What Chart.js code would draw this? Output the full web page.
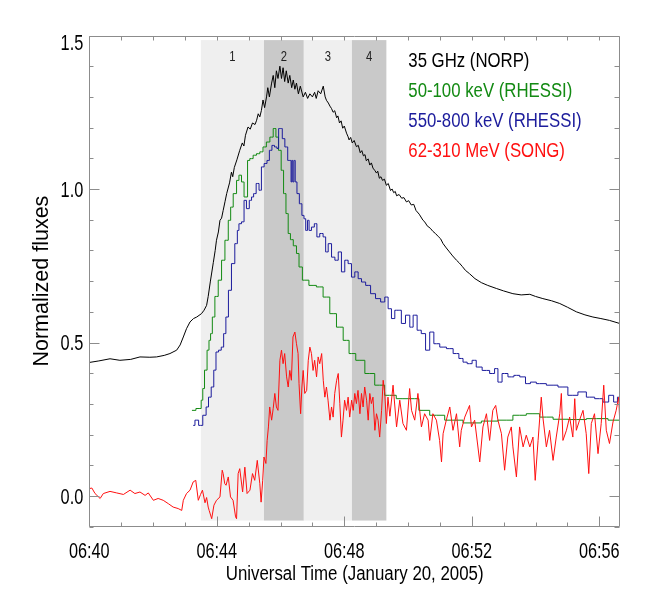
<!DOCTYPE html>
<html>
<head>
<meta charset="utf-8">
<script src="https://cdn.jsdelivr.net/npm/chart.js@4.4.3/dist/chart.umd.min.js"></script>
<style>
  html, body { margin: 0; padding: 0; background: #fff; }
  canvas { display: block; }
</style>
</head>
<body>
<canvas id="fluxChart" width="647" height="598"></canvas>
<script>
// temps en minutes après 06:40 UT
const normT = [0.00,0.30,0.65,0.96,1.30,1.59,1.90,2.11,2.35,2.53,2.74,2.85,2.95,3.05,3.16,3.27,3.37,3.52,3.60,3.68,3.73,3.80,3.89,3.95,3.99,4.05,4.10,4.15,4.20,4.26,4.31,4.40,4.46,4.50,4.55,4.63,4.72,4.80,4.85,4.90,4.98,5.05,5.12,5.20,5.25,5.30,5.35,5.40,5.45,5.50,5.56,5.60,5.65,5.72,5.77,5.82,5.87,5.92,5.98,6.03,6.08,6.13,6.18,6.24,6.29,6.35,6.40,6.45,6.50,6.56,6.62,6.71,6.78,6.85,6.92,7.00,7.07,7.12,7.18,7.26,7.34,7.40,7.44,7.50,7.55,7.60,7.65,7.70,7.76,7.80,7.85,7.90,7.95,8.00,8.07,8.12,8.15,8.20,8.25,8.31,8.38,8.44,8.50,8.55,8.60,8.65,8.69,8.75,8.80,8.85,8.90,8.96,9.01,9.05,9.10,9.15,9.20,9.26,9.32,9.38,9.45,9.50,9.55,9.60,9.64,9.72,9.80,9.87,9.95,10.02,10.10,10.18,10.25,10.35,10.47,10.53,10.60,10.70,10.78,10.86,10.95,11.02,11.10,11.20,11.30,11.40,11.52,11.60,11.70,11.80,11.93,12.10,12.30,12.50,12.77,13.00,13.29,13.55,13.82,14.00,14.23,14.50,14.76,15.00,15.28,15.55,15.80,16.05,16.32,16.64];
const normV = [0.435,0.440,0.447,0.442,0.445,0.453,0.452,0.453,0.458,0.464,0.475,0.492,0.518,0.545,0.567,0.578,0.583,0.594,0.605,0.621,0.650,0.700,0.760,0.800,0.833,0.860,0.898,0.905,0.930,0.960,0.985,1.020,1.055,1.040,1.070,1.095,1.126,1.150,1.140,1.175,1.202,1.195,1.215,1.210,1.224,1.245,1.235,1.256,1.290,1.265,1.300,1.330,1.300,1.345,1.370,1.330,1.385,1.360,1.400,1.360,1.395,1.350,1.385,1.345,1.370,1.330,1.355,1.325,1.345,1.310,1.335,1.300,1.315,1.295,1.310,1.300,1.315,1.295,1.320,1.310,1.335,1.300,1.289,1.280,1.270,1.262,1.250,1.255,1.232,1.238,1.215,1.222,1.198,1.205,1.182,1.170,1.160,1.168,1.150,1.158,1.138,1.142,1.118,1.125,1.108,1.112,1.092,1.098,1.078,1.085,1.068,1.060,1.052,1.058,1.035,1.040,1.028,1.032,1.012,1.018,0.995,1.000,0.988,0.992,0.978,0.982,0.970,0.972,0.958,0.962,0.948,0.950,0.930,0.918,0.898,0.892,0.880,0.872,0.862,0.855,0.845,0.838,0.822,0.808,0.795,0.782,0.768,0.760,0.748,0.735,0.724,0.708,0.695,0.686,0.676,0.668,0.659,0.655,0.657,0.650,0.643,0.636,0.627,0.615,0.600,0.590,0.583,0.578,0.572,0.562];

const hxrT = [3.22,3.47,3.55,3.57,3.66,3.73,3.78,3.83,3.89,3.99,4.10,4.20,4.31,4.41,4.46,4.57,4.67,4.72,4.83,4.88,4.95,4.98,5.09,5.19,5.30,5.40,5.50,5.61,5.72,5.82,5.89,5.98,6.06,6.13,6.21,6.27,6.35,6.45,6.55,6.61,6.76,7.02,7.23,7.44,7.65,7.86,8.07,8.23,8.49,8.80,9.11,9.42,9.84,10.21,10.47,10.89,11.41,12.04,12.56,13.08,13.50,13.92,14.34,14.76,15.28,15.91,16.64];
const hxrV = [0.279,0.285,0.312,0.350,0.410,0.475,0.507,0.529,0.583,0.650,0.703,0.768,0.833,0.898,0.941,0.985,1.028,1.045,1.023,0.974,0.974,1.093,1.099,1.110,1.115,1.121,1.137,1.153,1.169,1.197,1.169,1.126,1.061,0.985,0.920,0.855,0.835,0.815,0.790,0.746,0.703,0.686,0.681,0.648,0.594,0.550,0.507,0.464,0.442,0.399,0.361,0.328,0.317,0.317,0.279,0.263,0.247,0.238,0.244,0.247,0.263,0.268,0.257,0.250,0.249,0.252,0.247];

const gamT = [3.26,3.37,3.49,3.63,3.70,3.78,3.87,3.94,4.01,4.10,4.18,4.25,4.32,4.41,4.51,4.62,4.67,4.72,4.83,4.88,4.98,5.06,5.12,5.19,5.28,5.37,5.43,5.54,5.61,5.69,5.77,5.85,5.92,5.96,6.03,6.08,6.19,6.26,6.32,6.34,6.37,6.40,6.44,6.48,6.55,6.63,6.71,6.76,6.82,6.87,6.92,7.02,7.10,7.18,7.28,7.39,7.44,7.55,7.65,7.76,7.86,7.96,8.07,8.17,8.28,8.38,8.49,8.59,8.75,8.90,9.06,9.22,9.32,9.43,9.53,9.64,9.74,9.84,10.00,10.11,10.21,10.36,10.47,10.63,10.73,10.89,11.10,11.31,11.52,11.67,11.78,11.93,12.09,12.19,12.46,12.66,12.77,12.87,13.03,13.24,13.40,13.61,13.76,13.92,14.13,14.55,14.86,15.17,15.49,15.70,16.01,16.22,16.37,16.53,16.61];
const gamV = [0.230,0.247,0.230,0.263,0.290,0.322,0.355,0.410,0.469,0.475,0.485,0.529,0.583,0.670,0.757,0.822,0.865,0.887,0.893,0.963,0.936,0.963,0.974,0.985,1.018,0.996,1.072,1.083,1.093,1.126,1.142,1.137,1.132,1.197,1.197,1.164,1.137,1.093,1.093,1.023,1.093,1.023,1.093,1.023,0.985,0.952,0.914,0.903,0.865,0.898,0.865,0.876,0.887,0.844,0.855,0.844,0.795,0.822,0.778,0.768,0.795,0.730,0.768,0.757,0.713,0.730,0.708,0.697,0.686,0.659,0.643,0.632,0.648,0.610,0.578,0.605,0.605,0.562,0.589,0.550,0.589,0.540,0.529,0.475,0.534,0.496,0.485,0.480,0.464,0.448,0.436,0.431,0.442,0.420,0.409,0.399,0.415,0.371,0.399,0.388,0.393,0.388,0.366,0.371,0.366,0.361,0.355,0.328,0.339,0.322,0.317,0.306,0.328,0.306,0.322];

const songT = [0.00,0.08,0.18,0.34,0.44,0.65,0.86,1.07,1.28,1.43,1.59,1.75,1.85,2.01,2.16,2.32,2.48,2.63,2.79,2.90,2.95,3.05,3.16,3.26,3.34,3.42,3.49,3.55,3.63,3.68,3.73,3.76,3.84,3.91,3.99,4.10,4.17,4.20,4.25,4.29,4.36,4.43,4.51,4.59,4.62,4.67,4.72,4.81,4.88,4.95,5.04,5.12,5.19,5.27,5.35,5.39,5.44,5.48,5.54,5.58,5.62,5.66,5.72,5.77,5.82,5.87,5.92,5.98,6.03,6.08,6.13,6.19,6.24,6.29,6.34,6.39,6.45,6.50,6.55,6.58,6.63,6.67,6.71,6.76,6.82,6.87,6.92,6.97,7.02,7.07,7.13,7.18,7.23,7.29,7.34,7.39,7.44,7.49,7.55,7.60,7.65,7.70,7.76,7.81,7.86,7.91,7.96,8.01,8.07,8.12,8.17,8.23,8.28,8.33,8.38,8.43,8.49,8.54,8.59,8.64,8.70,8.75,8.80,8.85,8.90,8.96,9.01,9.06,9.11,9.17,9.22,9.27,9.32,9.37,9.43,9.53,9.64,9.74,9.84,9.95,10.05,10.11,10.21,10.31,10.42,10.52,10.63,10.68,10.78,10.89,10.99,11.05,11.10,11.20,11.31,11.41,11.52,11.62,11.67,11.78,11.93,11.99,12.09,12.25,12.35,12.46,12.56,12.66,12.75,12.82,12.93,13.03,13.13,13.24,13.29,13.40,13.50,13.61,13.71,13.82,13.92,13.99,14.08,14.18,14.23,14.34,14.44,14.55,14.65,14.76,14.81,14.86,14.97,15.07,15.17,15.23,15.28,15.38,15.49,15.59,15.67,15.75,15.85,15.96,16.06,16.14,16.22,16.32,16.43,16.53,16.61,16.64];
const songV = [0.024,0.026,0.008,-0.008,0.008,0.015,0.010,0.005,0.019,0.008,0.013,0.002,0.010,-0.014,-0.008,-0.014,-0.025,-0.036,-0.041,-0.047,-0.014,0.008,0.019,0.046,0.051,-0.014,0.005,0.019,-0.022,-0.005,-0.036,-0.047,-0.074,-0.030,-0.014,-0.003,0.084,0.073,0.040,0.035,0.062,-0.003,-0.014,-0.068,-0.074,0.073,0.089,0.013,0.094,0.008,0.019,0.073,0.051,0.116,0.040,-0.020,0.051,0.127,0.106,0.181,0.225,0.290,0.247,0.285,0.334,0.290,0.279,0.442,0.475,0.431,0.464,0.388,0.355,0.409,0.377,0.518,0.534,0.496,0.464,0.366,0.268,0.355,0.409,0.334,0.344,0.442,0.485,0.464,0.409,0.442,0.388,0.453,0.431,0.464,0.377,0.322,0.355,0.312,0.247,0.290,0.257,0.334,0.377,0.399,0.301,0.192,0.247,0.312,0.279,0.322,0.257,0.312,0.279,0.334,0.301,0.344,0.268,0.334,0.290,0.355,0.312,0.247,0.334,0.301,0.322,0.214,0.268,0.247,0.192,0.279,0.377,0.334,0.236,0.322,0.260,0.361,0.225,0.312,0.236,0.214,0.350,0.279,0.247,0.334,0.225,0.268,0.247,0.181,0.268,0.247,0.181,0.111,0.203,0.247,0.290,0.214,0.268,0.160,0.214,0.257,0.295,0.225,0.247,0.111,0.225,0.268,0.181,0.279,0.295,0.247,0.203,0.084,0.192,0.225,0.160,0.062,0.225,0.160,0.198,0.160,0.192,0.051,0.181,0.322,0.257,0.160,0.214,0.116,0.192,0.268,0.334,0.181,0.214,0.257,0.192,0.317,0.214,0.247,0.279,0.203,0.073,0.236,0.268,0.138,0.236,0.361,0.214,0.171,0.241,0.279,0.322,0.247];

// intervalles 1-4 (minutes)
const bandStart = [3.50, 5.48, 6.73, 8.24];
const bandEnd = [5.48, 6.73, 8.24, 9.32];
const bandLabels = ["1", "2", "3", "4"];

const seriesLabels = ["35 GHz (NORP)", "50-100 keV (RHESSI)", "550-800 keV (RHESSI)", "62-310 MeV (SONG)"];
const xMajor = [0, 4, 8, 12, 16];
const xTickLabels = ["06:40", "06:44", "06:48", "06:52", "06:56"];
const yMajor = [0, 0.5, 1.0, 1.5];
const yTickLabels = ["0.0", "0.5", "1.0", "1.5"];
const xTitle = "Universal Time (January 20, 2005)";

const SANS = "'Liberation Sans', Arial, Helvetica, sans-serif";
const colors = ["#000000", "#138a13", "#1c1c9c", "#ff1010"];
const shades = ["#efefef", "#c9c9c9", "#efefef", "#c9c9c9"];

const pts = (ts, vs) => ts.map((t, i) => ({ x: t, y: vs[i] }));

// texte compressé horizontalement (police étroite du graphique d'origine)
function narrowText(ctx, text, x, y, sx, align) {
  ctx.save();
  ctx.translate(x, y);
  ctx.scale(sx, 1);
  ctx.textAlign = align;
  ctx.fillText(text, 0, 0);
  ctx.restore();
}

const bandsPlugin = {
  id: "bands",
  beforeDatasetsDraw(chart) {
    const { ctx, scales: { x, y } } = chart;
    const top = y.getPixelForValue(1.485);
    const bot = y.getPixelForValue(-0.08);
    ctx.save();
    ctx.font = "15px " + SANS;
    ctx.textBaseline = "alphabetic";
    bandStart.forEach((s, i) => {
      const x0 = x.getPixelForValue(s);
      const x1 = x.getPixelForValue(bandEnd[i]);
      ctx.fillStyle = shades[i];
      ctx.fillRect(x0, top, x1 - x0, bot - top);
      ctx.fillStyle = "#222";
      narrowText(ctx, bandLabels[i], (x0 + x1) / 2, top + 21, 0.75, "center");
    });
    ctx.restore();
  },
};

const framePlugin = {
  id: "frame",
  afterDatasetsDraw(chart) {
    const { ctx, chartArea: a, scales: { x, y } } = chart;
    const L = Math.round(a.left) + 0.5, R = Math.round(a.right) - 0.5;
    const T = Math.round(a.top) + 0.5, B = Math.round(a.bottom) - 0.5;
    ctx.save();
    ctx.strokeStyle = "#8c8c8c";
    ctx.lineWidth = 1;
    ctx.beginPath();
    ctx.rect(L, T, R - L, B - T);
    x.ticks.forEach((t) => {
      if (!Number.isInteger(t.value)) return;
      const px = Math.round(x.getPixelForValue(t.value)) + 0.5;
      const big = xMajor.includes(t.value);
      ctx.moveTo(px, B); ctx.lineTo(px, B - (big ? 10 : 4));
      ctx.moveTo(px, T); ctx.lineTo(px, T + 4);
    });
    y.ticks.forEach((t) => {
      const py = Math.round(y.getPixelForValue(t.value)) + 0.5;
      const big = Math.round(t.value * 10) % 5 === 0;
      ctx.moveTo(L, py); ctx.lineTo(L + (big ? 10 : 4), py);
      ctx.moveTo(R, py); ctx.lineTo(R - (big ? 10 : 5), py);
    });
    ctx.stroke();
    ctx.restore();
  },
};

const textPlugin = {
  id: "texts",
  afterDraw(chart) {
    const { ctx, chartArea: a, scales: { x, y } } = chart;
    ctx.save();
    ctx.textBaseline = "alphabetic";
    ctx.fillStyle = "#000";
    // graduations Y
    ctx.font = "21.5px " + SANS;
    yMajor.forEach((v, i) => {
      const py = v === 1.5 ? a.top + 14.5 : y.getPixelForValue(v) + 7.5;
      narrowText(ctx, yTickLabels[i], a.left - 6, py, 0.76, "right");
    });
    // graduations X
    ctx.font = "22px " + SANS;
    xMajor.forEach((v, i) => {
      narrowText(ctx, xTickLabels[i], x.getPixelForValue(v), a.bottom + 31.5, 0.74, "center");
    });
    // titre X
    ctx.font = "19.6px " + SANS;
    narrowText(ctx, xTitle, (a.left + a.right) / 2, a.bottom + 53, 0.86, "center");
    // légende
    ctx.font = "19.5px " + SANS;
    chart.data.datasets.forEach((ds, i) => {
      ctx.fillStyle = ds.borderColor;
      narrowText(ctx, ds.label, a.left + 319, a.top + 31.2 + i * 30, 0.86, "left");
    });
    ctx.restore();
  },
};

const mk = (i, ts, vs, extra) => Object.assign({
  label: seriesLabels[i],
  data: pts(ts, vs),
  borderColor: colors[i],
  borderWidth: 1,
  pointRadius: 0,
  tension: 0,
  fill: false,
  order: 3 - i,
}, extra);

new Chart(document.getElementById("fluxChart"), {
  type: "line",
  data: {
    datasets: [
      mk(0, normT, normV),
      mk(1, hxrT, hxrV, { stepped: "middle" }),
      mk(2, gamT, gamV, { stepped: "middle" }),
      mk(3, songT, songV),
    ],
  },
  options: {
    responsive: false,
    animation: false,
    devicePixelRatio: 1,
    layout: { padding: { left: 29, right: 27, top: 35.5, bottom: 0 } },
    plugins: { legend: { display: false }, tooltip: { enabled: false } },
    scales: {
      x: {
        type: "linear",
        min: 0,
        max: 16.65,
        grid: { display: false, drawTicks: false },
        border: { display: false },
        ticks: { display: false, stepSize: 1, includeBounds: false, autoSkip: false },
        afterFit: (s) => { s.height = 71.3; },
      },
      y: {
        min: -0.1,
        max: 1.5,
        grid: { display: false, drawTicks: false },
        border: { display: false },
        ticks: { display: false, stepSize: 0.1, autoSkip: false },
        title: {
          display: true,
          text: "Normalized fluxes",
          color: "#000",
          font: { family: SANS, size: 21.5 },
          padding: { top: 0, bottom: 0 },
        },
        afterFit: (s) => { s.width = 60.3; },
      },
    },
  },
  plugins: [bandsPlugin, framePlugin, textPlugin],
});
</script>
</body>
</html>
